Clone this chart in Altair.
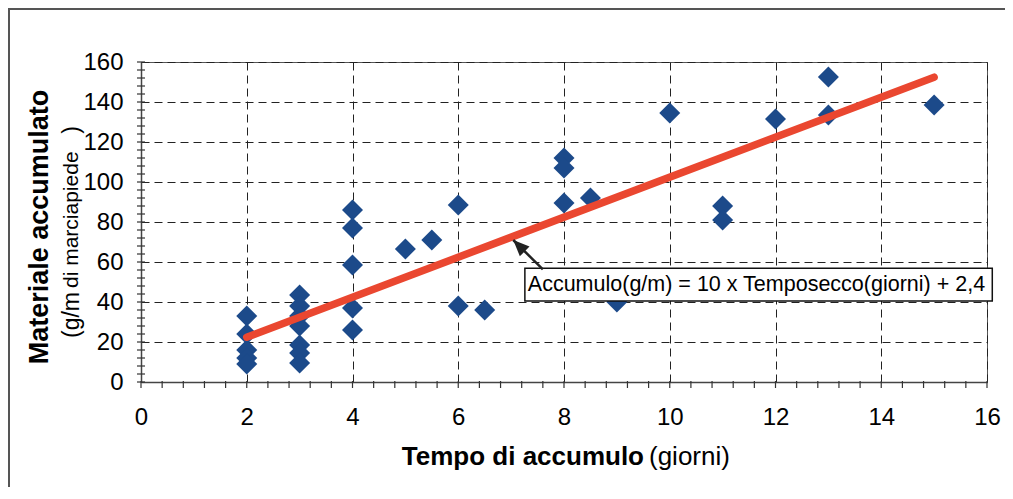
import altair as alt
import pandas as pd
import numpy as np

# ---- data ----
days = [2, 2, 2, 2, 2,
        3, 3, 3, 3, 3, 3, 3,
        4, 4, 4, 4, 4,
        5, 5.5, 6, 6, 6.5,
        8, 8, 8, 8.5, 9, 10,
        11, 11, 12, 13, 13, 15]
material = [33, 24, 16, 12, 9,
            43.5, 38, 33, 28, 18.5, 14.5, 9.5,
            86, 77, 58.5, 37, 26,
            66.5, 71, 88.5, 38, 36,
            112, 107, 89.5, 92, 40, 134.5,
            88, 81, 131.5, 152.5, 133.5, 138.5]

fit_slope = 10
fit_intercept = 2.4
fit_range = [2, 15]
fit_label = "Accumulo(g/m) = 10 x Temposecco(giorni) + 2,4"

x_ticks = list(range(0, 17, 2))
y_ticks = list(range(0, 161, 20))
x_minor = [round(v, 1) for v in np.arange(0, 16.01, 0.4)]
y_minor = list(range(0, 161, 4))

# annotation box / arrow (data coords)
box = {"x": 7.26, "x2": 16.1, "y": 56.9, "y2": 40.5}
arrow = {"x": 7.6, "y": 56.3, "x2": 7.04, "y2": 71.0}

FONT = "Liberation Sans"
W, H = 846, 320

pts = pd.DataFrame({"x": days, "y": material})
fit = pd.DataFrame({"x": fit_range,
                    "y": [fit_slope * v + fit_intercept for v in fit_range]})
xs = alt.Scale(domain=[0, 16], nice=False, zero=False)
ys = alt.Scale(domain=[0, 160], nice=False, zero=False)
xaxis = alt.Axis(values=x_ticks, title=None, grid=True, ticks=False,
                 labelPadding=23, labelFontSize=24, labelFont=FONT,
                 labelColor="black", domainColor="#444", domainWidth=1.5,
                 gridColor="#222", gridDash=[8, 5], gridWidth=1, labelFlush=False)
yaxis = alt.Axis(values=y_ticks, title=None, grid=True, ticks=False,
                 labelPadding=18, labelFontSize=24, labelFont=FONT,
                 labelColor="black", domainColor="#444", domainWidth=1.5,
                 gridColor="#222", gridDash=[8, 5], gridWidth=1, labelFlush=False)


def X(f="x"):
    return alt.X(f"{f}:Q", scale=xs, axis=xaxis)


def Y(f="y"):
    return alt.Y(f"{f}:Q", scale=ys, axis=yaxis)


points = alt.Chart(pts).mark_point(shape="diamond", filled=True, size=440,
                                   color="#1C4A8A", opacity=1).encode(x=X(), y=Y())

line = alt.Chart(fit).mark_line(color="#EA4730", strokeWidth=7.5,
                                strokeCap="round").encode(x=X(), y=Y())

xm = alt.Chart(pd.DataFrame({"x": x_minor})).mark_rule(
    color="#333", strokeWidth=1.2).encode(x=X(), y=alt.value(H - 1), y2=alt.value(H + 6))
ym = alt.Chart(pd.DataFrame({"y": y_minor})).mark_rule(
    color="#333", strokeWidth=1.2).encode(y=Y(), x=alt.value(-4), x2=alt.value(4))

bdf = pd.DataFrame([box])
rect = alt.Chart(bdf).mark_rect(fill="white", stroke="#111", strokeWidth=1.5).encode(
    x=X(), x2="x2:Q", y=Y(), y2="y2:Q")
ldf = pd.DataFrame({"x": [(box["x"] + box["x2"]) / 2 - 0.04],
                    "y": [(box["y"] + box["y2"]) / 2], "t": [fit_label]})
label = alt.Chart(ldf).mark_text(font=FONT, fontSize=21.5, color="black",
                                 baseline="middle", align="center").encode(
    x=X(), y=Y(), text="t:N")

adf = pd.DataFrame([arrow])
arrow_line = alt.Chart(adf).mark_rule(color="#222", strokeWidth=2.5).encode(
    x=X(), y=Y(), x2="x2:Q", y2="y2:Q")
head = alt.Chart(pd.DataFrame({"x": [arrow["x2"]], "y": [arrow["y2"]]})).mark_point(
    shape="M0,0L0.55,1.3L-0.55,1.3Z", filled=True, size=620, color="#222",
    opacity=1, angle=315).encode(x=X(), y=Y())


def txt(text, x, y, size, bold=False, angle=0, align="center", baseline="middle"):
    return alt.Chart(pd.DataFrame({"t": [text]})).mark_text(
        font=FONT, fontSize=size, fontWeight="bold" if bold else "normal",
        color="black", angle=angle, align=align, baseline=baseline).encode(
        text="t:N", x=alt.value(x), y=alt.value(y))


titles = [
    txt("Tempo di accumulo", 503, 403, 26, bold=True, align="right", baseline="alphabetic"),
    txt("(giorni)", 508, 403, 26, align="left", baseline="alphabetic"),
    txt("Materiale accumulato", -101, 165, 27, bold=True, angle=270),
    txt("(g/m", -69, 276, 23, angle=270, align="left"),
    txt("di marciapiede", -69, 226, 21, angle=270, align="left"),
    txt(")", -69, 64, 23, angle=270, align="right"),
]

# outer frame of the figure: a left edge and a top edge only
frame_left = alt.Chart(pd.DataFrame({"a": [0]})).mark_rule(color="#555", strokeWidth=2).encode(
    x=alt.value(-132), x2=alt.value(-132), y=alt.value(-54), y2=alt.value(425))
frame_top = alt.Chart(pd.DataFrame({"a": [0]})).mark_rule(color="#555", strokeWidth=2).encode(
    x=alt.value(-133), x2=alt.value(864), y=alt.value(-53), y2=alt.value(-53))

chart = alt.layer(
    xm, ym, points, line, rect, label, arrow_line, head, *titles, frame_left, frame_top
).properties(
    width=W, height=H,
    autosize=alt.AutoSizeParams(type="none"),
    padding={"left": 133, "top": 54, "right": 18, "bottom": 105},
    background="white",
).configure_view(stroke="#555", strokeWidth=1)

chart.save("out.html", embed_options={"renderer": "svg", "actions": False})
